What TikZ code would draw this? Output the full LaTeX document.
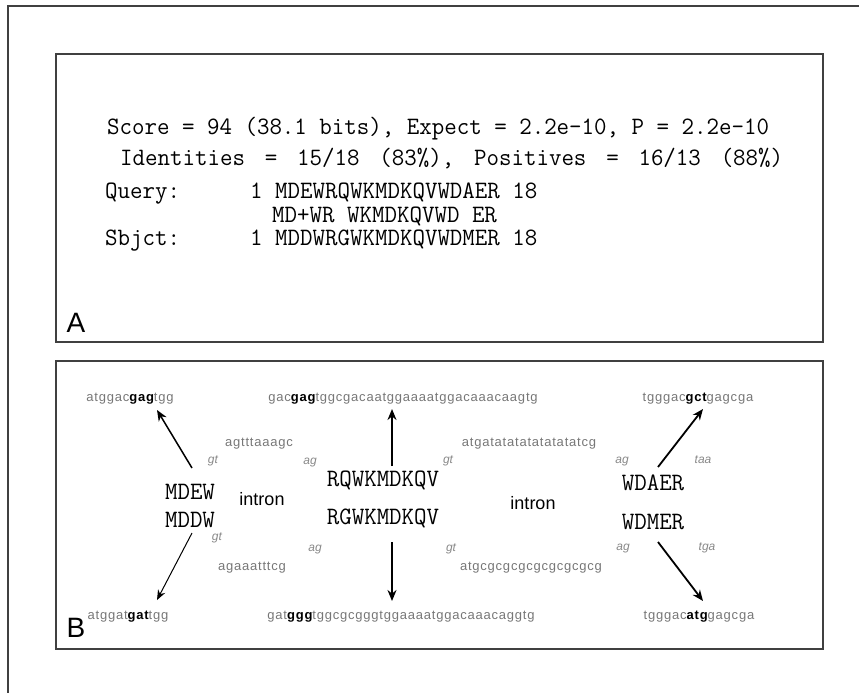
\documentclass[tikz,border=0pt]{standalone}
\usepackage{fontspec}
\setsansfont{Liberation Sans}
\newfontfamily\seqfont[LetterSpace=6]{Liberation Sans}
\newfontfamily\lblfont{Liberation Sans}
\newfontfamily\tallmono[FakeStretch=0.97]{Latin Modern Mono}
\usetikzlibrary{arrows.meta}
\definecolor{framegray}{HTML}{404040}
\definecolor{seqgray}{HTML}{777777}
\definecolor{lblgray}{HTML}{888888}
\newcommand\bq[1]{{\bfseries\color{black}#1}}
\begin{document}
\begin{tikzpicture}[x=1pt,y=-1pt,
  mono/.style={font=\tallmono\fontsize{25}{28}\selectfont, inner sep=0pt, anchor=base west},
  bigmono/.style={font=\tallmono\fontsize{25}{28}\selectfont, inner sep=0pt},
  seq/.style={font=\seqfont\fontsize{13}{15}\selectfont, text=seqgray, inner sep=0pt, anchor=base},
  ital/.style={font=\lblfont\itshape\fontsize{12}{14}\selectfont, text=lblgray, inner sep=0pt, anchor=base},
  intr/.style={font=\sffamily\fontsize{18}{20}\selectfont, inner sep=0pt},
  panellabel/.style={font=\sffamily\fontsize{28}{30}\selectfont, inner sep=0pt, anchor=base},
  panel/.style={draw=framegray, line width=1.3pt},
  arr/.style={-{Stealth[length=11pt,width=9pt]}, line width=1.8pt},
  thinarr/.style={-{Stealth[length=10pt,width=8pt]}, line width=1pt}
]
\useasboundingbox (0,0) rectangle (859,693);
% outer frame
\draw[panel] (8,693) -- (8,6) -- (859,6);
% panels
\draw[panel] (56,54) rectangle (823,342);
\draw[panel] (56,361) rectangle (823,649);

% ---------- Panel A ----------
\node[mono] (score) at (107,134) {Score = 94 (38.1 bits), Expect = 2.2e-10, P = 2.2e-10};
\node[mono] (ident) at (120,165) {\makebox[663pt][s]{Identities\hfill=\hfill15/18\hfill(83\%),\hfill Positives\hfill=\hfill16/13\hfill(88\%)}};
\node[mono] (qlab) at (105,198.5) {Query:};
\node[mono] (qseq) at (250,198.5) {1 MDEWRQWKMDKQVWDAER 18};
\node[mono] (mid) at (272,222) {MD+WR WKMDKQVWD ER};
\node[mono] (slab) at (105,245.5) {Sbjct:};
\node[mono] (sseq) at (250,245.5) {1 MDDWRGWKMDKQVWDMER 18};
\node[panellabel] (labA) at (76,332) {A};

% ---------- Panel B ----------
\node[panellabel] (labB) at (76,637) {B};

% sequences
\node[seq] (s1) at (130,401) {atggac\bq{gag}tgg};
\node[seq] (s2) at (403,401) {gac\bq{gag}tggcgacaatggaaaatggacaaacaagtg};
\node[seq] (s3) at (698,401) {tgggac\bq{gct}gagcga};
\node[seq] (i1) at (259,446) {agtttaaagc};
\node[seq] (i2) at (529,446) {atgatatatatatatatatcg};
\node[seq] (i3) at (252,570) {agaaatttcg};
\node[seq] (i4) at (531,570) {atgcgcgcgcgcgcgcgcg};
\node[seq] (b1) at (128,619) {atggat\bq{gat}tgg};
\node[seq] (b2) at (401,619) {gat\bq{ggg}tggcgcgggtggaaaatggacaaacaggtg};
\node[seq] (b3) at (699,619) {tgggac\bq{atg}gagcga};

% splice labels
\node[ital] (g1) at (213,463) {gt};
\node[ital] (a1) at (310,464) {ag};
\node[ital] (g2) at (448,463) {gt};
\node[ital] (a2) at (622,463) {ag};
\node[ital] (t1) at (703,463) {taa};
\node[ital] (g3) at (217,540) {gt};
\node[ital] (a3) at (315,551) {ag};
\node[ital] (g4) at (451,551) {gt};
\node[ital] (a4) at (623,550) {ag};
\node[ital] (t2) at (707,550) {tga};

% protein fragments
\node[bigmono] (p1) at (190,492) {MDEW};
\node[bigmono] (p2) at (190,520) {MDDW};
\node[bigmono] (p3) at (383,480) {RQWKMDKQV};
\node[bigmono] (p4) at (383,518) {RGWKMDKQV};
\node[bigmono] (p5) at (653,483) {WDAER};
\node[bigmono] (p6) at (653,522) {WDMER};

\node[intr] (in1) at (262,499) {intron};
\node[intr] (in2) at (533,503) {intron};

% arrow end points
\coordinate (c1s) at (192,468); \coordinate (c1e) at (157,410);
\coordinate (c2s) at (192,533); \coordinate (c2e) at (157,600);
\coordinate (c3s) at (392,466); \coordinate (c3e) at (392,409);
\coordinate (c4s) at (392,542); \coordinate (c4e) at (392,601);
\coordinate (c5s) at (658,467); \coordinate (c5e) at (703,409);
\coordinate (c6s) at (658,542); \coordinate (c6e) at (703,601);

\draw[arr, line width=1.5pt] (c1s) -- (c1e);
\draw[thinarr] (c2s) -- (c2e);
\draw[arr] (c3s) -- (c3e);
\draw[arr] (c4s) -- (c4e);
\draw[arr] (c5s) -- (c5e);
\draw[arr] (c6s) -- (c6e);
\end{tikzpicture}
\end{document}
